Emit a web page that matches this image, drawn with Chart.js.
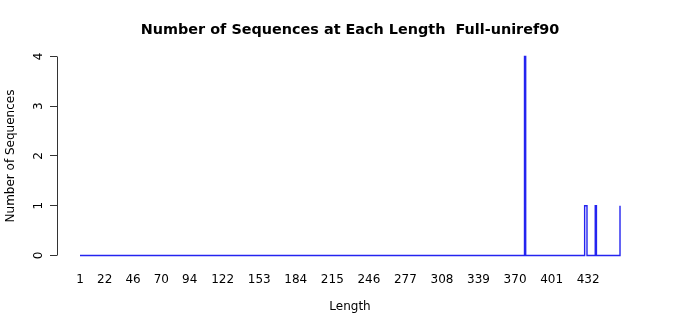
<!DOCTYPE html>
<html><head><meta charset="utf-8">
<script src="https://cdn.jsdelivr.net/npm/chart.js@4"></script>
<style>html,body{margin:0;padding:0;background:#fff;}</style>
</head><body>
<canvas id="c" width="700" height="315"></canvas>
<script>
// Data (sequence length -> number of sequences; zeros around spikes)
const lengths = [1, 377, 378, 379, 428, 429, 430, 431, 437, 438, 439, 458, 459];
const counts  = [0,   0,   4,   0,   0,   1,   1,   0,   0,   1,   0,   0,   1];
const xTickValues = [1, 22, 46, 70, 94, 122, 153, 184, 215, 246, 277, 308, 339, 370, 401, 432];
const yTickValues = [0, 1, 2, 3, 4];
const titleText = 'Number of Sequences at Each Length  Full-uniref90';
const xTitle = 'Length';
const yTitle = 'Number of Sequences';

Chart.defaults.font.family = "'DejaVu Sans', sans-serif";
Chart.defaults.font.size = 12;
Chart.defaults.color = '#000';

const axisLine = {
  id: 'axisLine',
  afterDraw(chart) {
    const ys = chart.scales.y;
    const c = chart.ctx;
    const x = Math.round(chart.chartArea.left) + 0.5;
    c.save();
    c.strokeStyle = '#333';
    c.lineWidth = 1;
    c.beginPath();
    c.moveTo(x, ys.getPixelForValue(yTickValues[0]));
    c.lineTo(x, ys.getPixelForValue(yTickValues[yTickValues.length - 1]));
    c.stroke();
    c.restore();
  }
};

new Chart(document.getElementById('c'), {
  type: 'line',
  data: {
    datasets: [{
      data: lengths.map((x, i) => ({ x: x, y: counts[i] })),
      borderColor: '#2424f0',
      borderWidth: 1.4,
      stepped: 'before',
      pointRadius: 0,
      fill: false
    }]
  },
  options: {
    responsive: false,
    animation: false,
    devicePixelRatio: 1,
    layout: { padding: 0 },
    plugins: {
      legend: { display: false },
      tooltip: { enabled: false },
      title: {
        display: true, text: titleText, color: '#000',
        font: { size: 14.4, weight: 'bold', lineHeight: 1.2 },
        padding: { top: 21.4, bottom: 10.3 }
      }
    },
    scales: {
      x: {
        type: 'linear', min: -18.5, max: 478.5,
        afterBuildTicks: s => { s.ticks = xTickValues.map(v => ({ value: v })); },
        grid: { display: false, drawTicks: false },
        border: { display: false },
        ticks: { autoSkip: false, maxRotation: 0, minRotation: 0, padding: 10, color: '#000',
                 callback: v => String(v) },
        title: { display: true, text: xTitle, color: '#000', padding: { top: 0, bottom: 1 } },
        afterFit: s => { s.height = 52; }
      },
      y: {
        min: -0.1508, max: 4.1508,
        afterBuildTicks: s => { s.ticks = yTickValues.map(v => ({ value: v })); },
        grid: { display: true, drawOnChartArea: false, drawTicks: true, tickLength: 7, tickColor: '#333', tickWidth: 1 },
        border: { display: false },
        ticks: { minRotation: 90, maxRotation: 90, crossAlign: 'center', padding: 7, color: '#000',
                 callback: v => String(v) },
        title: { display: true, text: yTitle, color: '#000', padding: { top: 4, bottom: 0 } },
        afterFit: s => { s.width = 57; }
      },
      yRight: {
        position: 'right', display: true,
        grid: { display: false, drawTicks: false },
        border: { display: false },
        ticks: { display: false },
        afterFit: s => { s.width = 57; }
      }
    }
  },
  plugins: [axisLine]
});
</script>
</body></html>
